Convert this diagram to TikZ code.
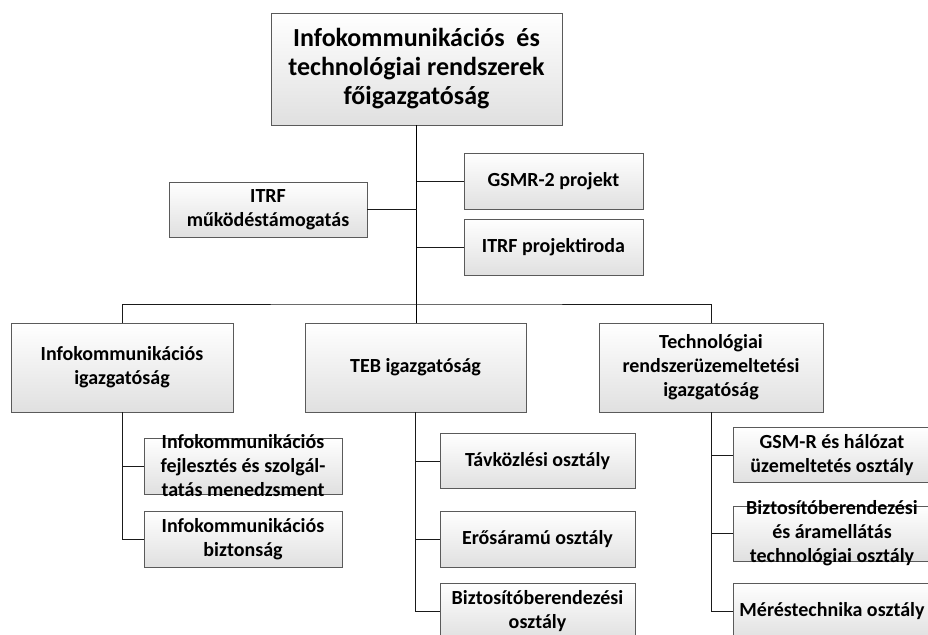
\documentclass[tikz,border=0pt]{standalone}
\usepackage{fontspec}
\setmainfont{Carlito}
\usetikzlibrary{positioning, calc}
\definecolor{ink}{HTML}{000000}
\definecolor{edge}{HTML}{5A5A5A}
\definecolor{shade}{HTML}{E0E0E0}
\definecolor{wire}{HTML}{1A1A1A}
\tikzset{
  boxbase/.style={
    draw=edge, line width=0.9pt, top color=white, bottom color=shade,
    inner sep=0pt, minimum width=198pt, minimum height=56pt,
  },
  boxtext/.style={align=center, text=ink, inner sep=0pt,
                  font=\bfseries\fontsize{20}{24}\selectfont},
  box/.style={boxbase, label={[boxtext]center:#1}},
  boxtop/.style={boxbase, minimum width=291pt, minimum height=112pt,
    label={[boxtext, font=\bfseries\fontsize{26}{29}\selectfont]center:#1}},
  %
  link/.style={draw=wire, line width=1pt},
  trunk/.style={draw=ink, line width=1.5pt},
}
\begin{document}
\begin{tikzpicture}[x=1pt, y=-1pt]
  \useasboundingbox (0,0) rectangle (928,634);
  \clip (0,0) rectangle (928,634);

  % head
  \node[boxtop={Infokommunikációs~~és\\technológiai rendszerek\\főigazgatóság}]
    (head) at (416.5,69) {};

  % staff units
  \node[box={ITRF\\működéstámogatás}, minimum height=55pt] (muk) at (268,209.5) {};
  \node[box={GSMR-2 projekt}, minimum width=179pt] (gsmr) at (553.5,181) {};
  \node[box={ITRF projektiroda}, minimum width=179pt] (proj) at (553.5,247) {};

  % directorates
  \node[box={Infokommunikációs\\igazgatóság}, minimum width=222pt, minimum height=89pt]
    (infoig) at (122,367.5) {};
  \node[box={TEB igazgatóság}, minimum width=221pt, minimum height=89pt]
    (tebig) at (415.5,367.5) {};
  \node[box={Technológiai\\rendszerüzemeltetési\\igazgatóság}, minimum width=224pt, minimum height=89pt]
    (techig) at (711,367.5) {};

  % departments
  \node[box={Infokommunikációs\\fejlesztés és szolgál-\\tatás menedzsment}] (fejl) at (243,466) {};
  \node[box={Infokommunikációs\\biztonság}] (bizt) at (243,539) {};

  \node[box={Távközlési osztály}, minimum width=195pt, minimum height=55pt] (tav) at (537.5,461) {};
  \node[box={Erősáramú osztály}, minimum width=195pt] (eros) at (537.5,539) {};
  \node[box={Biztosítóberendezési\\osztály}, minimum width=195pt] (bizob) at (537.5,611) {};

  \node[box={GSM-R és hálózat\\üzemeltetés osztály}, minimum height=55pt] (gsmrh) at (832,455) {};
  \node[box={Biztosítóberendezési\\és áramellátás\\technológiai osztály}, minimum height=55pt]
    (aram) at (832,533.5) {};
  \node[box={Méréstechnika osztály}] (meres) at (832,611) {};

  % connectors
  \coordinate (bus) at (416,304);
  \draw[trunk] (head.south) -- (head.south |- tebig.north);
  \draw[link] (infoig.north) |- (bus) -| (techig.north);
  \draw[link] (muk.east) -- (muk.east -| head.south);
  \draw[link] (gsmr.west) -- (gsmr.west -| head.south);
  \draw[link] (proj.west) -- (proj.west -| head.south);

  \draw[link] (infoig.south) |- (fejl.west);
  \draw[link] (infoig.south) |- (bizt.west);
  \draw[link] (tebig.south) |- (tav.west);
  \draw[link] (tebig.south) |- (eros.west);
  \draw[link] (tebig.south) |- (bizob.west);
  \draw[link] (techig.south) |- (gsmrh.west);
  \draw[link] (techig.south) |- (aram.west);
  \draw[link] (techig.south) |- (meres.west);

\end{tikzpicture}
\end{document}
